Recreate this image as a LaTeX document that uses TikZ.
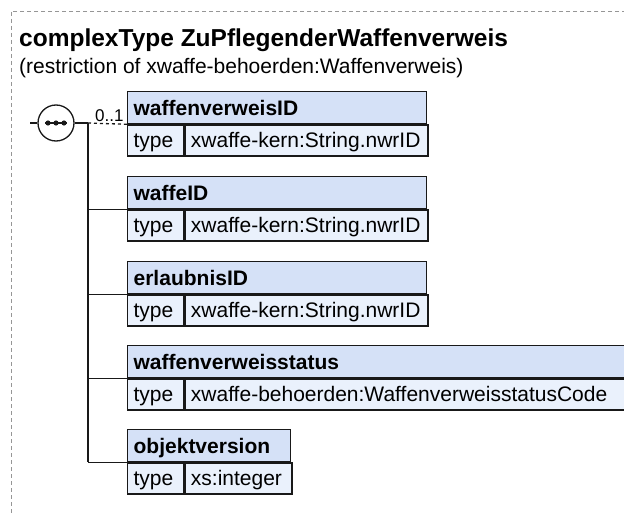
\documentclass[tikz,border=0pt]{standalone}
\usepackage{fontspec}
\setmainfont{Liberation Sans}
\definecolor{hdrblue}{RGB}{213,225,247}
\definecolor{rowblue}{RGB}{234,241,252}
\definecolor{framegray}{RGB}{150,150,150}
\definecolor{edge}{RGB}{25,25,25}
\tikzset{
  x=1pt, y=-1pt,
  cell/.style={draw=edge, line width=1.3pt, anchor=north west, inner xsep=6pt, inner ysep=0pt,
    align=left, text height=15pt, text depth=0pt},
  hdr/.style={cell, fill=hdrblue, minimum height=32pt, font=\bfseries\fontsize{21}{24}\selectfont},
  typ/.style={cell, fill=rowblue, minimum height=31pt, font=\fontsize{21}{24}\selectfont},
  conn/.style={line width=1.3pt, draw=edge},
  optconn/.style={conn, dash pattern=on 3pt off 3pt},
}
\begin{document}
\begin{tikzpicture}
\useasboundingbox (0,0) rectangle (624,514);
% frame
\draw[framegray, line width=1pt, dash pattern=on 4pt off 3pt] (640,11) -- (11,11) -- (11,530);
% titles
\node[anchor=base west, inner sep=0, font=\bfseries\fontsize{24.5}{28}\selectfont] (title) at (19,46.5) {complexType ZuPflegenderWaffenverweis};
\node[anchor=base west, inner sep=0, font=\fontsize{21}{24}\selectfont] (sub) at (19,73) {(restriction of xwaffe-behoerden:Waffenverweis)};
% boxes
\node[hdr, text width=287pt] (h1) at (127,91) {waffenverweisID};
\node[typ, text width=44pt] (t1) at (h1.south west) {type};
\node[typ, text width=231pt] (v1) at (t1.north east) {xwaffe-kern:String.nwrID};
\node[hdr, text width=287pt] (h2) at (127,176) {waffeID};
\node[typ, text width=44pt] (t2) at (h2.south west) {type};
\node[typ, text width=231pt] (v2) at (t2.north east) {xwaffe-kern:String.nwrID};
\node[hdr, text width=287pt] (h3) at (127,261) {erlaubnisID};
\node[typ, text width=44pt] (t3) at (h3.south west) {type};
\node[typ, text width=231pt] (v3) at (t3.north east) {xwaffe-kern:String.nwrID};
\node[hdr, text width=501pt] (h4) at (127,345) {waffenverweisstatus};
\node[typ, text width=44pt] (t4) at (h4.south west) {type};
\node[typ, text width=445pt] (v4) at (t4.north east) {xwaffe-behoerden:WaffenverweisstatusCode};
\node[hdr, text width=151pt] (h5) at (127,429) {objektversion};
\node[typ, text width=44pt] (t5) at (h5.south west) {type};
\node[typ, text width=95pt] (v5) at (t5.north east) {xs:integer};
% compositor
\node[circle, draw=edge, line width=1.3pt, fill=white, minimum size=36pt, inner sep=0] (seq) at (56,123) {};
\draw[conn] ([xshift=-11pt]seq.center) -- ([xshift=11pt]seq.center);
\foreach \dx in {-8,0,8} \fill[edge] ([xshift=\dx pt]seq.center) circle (2.6pt);
\coordinate (in) at (30,123);
\coordinate (j) at (88,123);
\draw[conn] (in) -- (seq.west);
\draw[conn] (seq.east) -- (j);
\draw[optconn] (j) -- (h1.south west);
\draw[conn] (j) -- (j |- h5.south west);
\draw[conn] (j |- h2.south west) -- (h2.south west);
\draw[conn] (j |- h3.south west) -- (h3.south west);
\draw[conn] (j |- h4.south west) -- (h4.south west);
\draw[conn] (j |- h5.south west) -- (h5.south west);
\node[anchor=base west, inner sep=0, font=\fontsize{17}{20}\selectfont] (m1) at (95,121) {0..1};
\end{tikzpicture}
\end{document}
